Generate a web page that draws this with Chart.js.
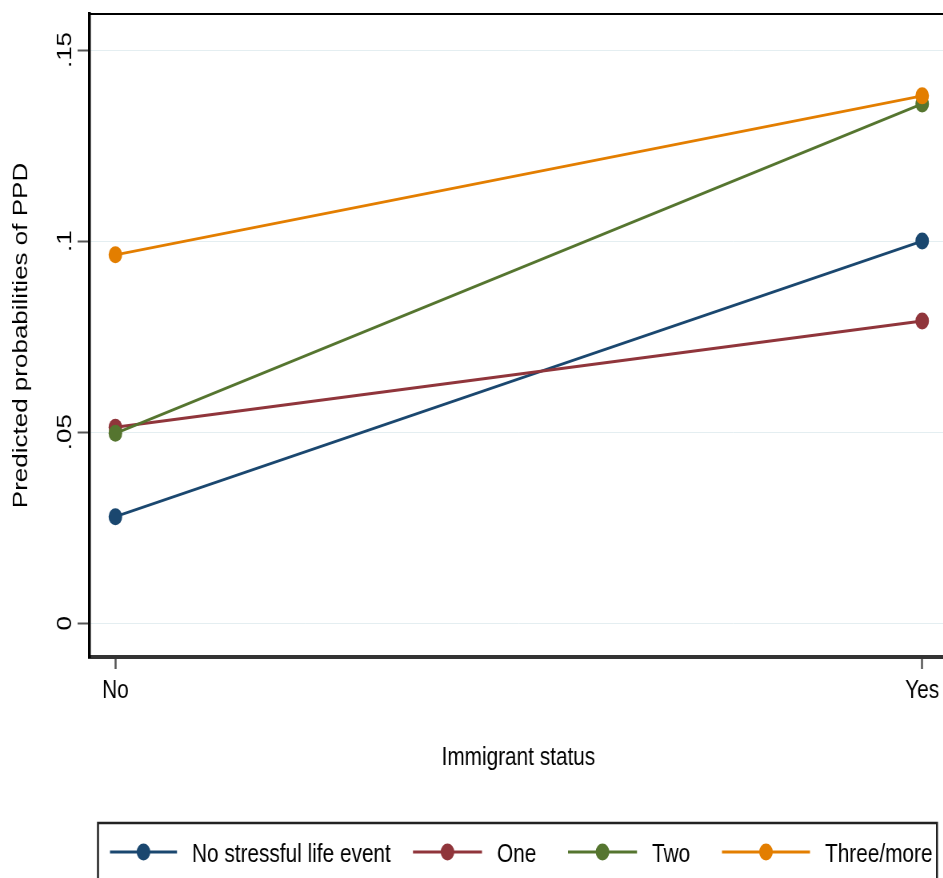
<!DOCTYPE html>
<html>
<head>
<meta charset="utf-8">
<script src="https://cdn.jsdelivr.net/npm/chart.js@4.4.1/dist/chart.umd.min.js"></script>
<style>
  html, body { margin: 0; padding: 0; background: #fff; overflow: hidden; width: 943px; height: 878px; }
  /* the plot is laid out on a wider canvas and narrowed horizontally */
  #wrap { position: absolute; left: 0; top: 0; width: 1186px; height: 878px; transform: scaleX(0.8); transform-origin: 0 0; }
</style>
</head>
<body>
<div id="wrap"><canvas id="c"></canvas></div>
<script>
// Predicted probabilities of PPD by immigrant status and number of stressful life events
const categories = ['No', 'Yes'];
const seriesNames = ['No stressful life event', 'One', 'Two', 'Three/more'];
const noEvent = [0.0279, 0.1000];
const oneEvent = [0.0513, 0.0791];
const twoEvents = [0.0497, 0.1359];
const threeOrMore = [0.0964, 0.1380];
const yTickValues = [0, 0.05, 0.1, 0.15];
const yTickLabels = ['0', '.05', '.1', '.15'];

const seriesValues = [noEvent, oneEvent, twoEvents, threeOrMore];
const seriesColors = ['#1a476f', '#90353b', '#55752f', '#e37e00'];
const FONT = '"Liberation Sans", Arial, sans-serif';
const FSIZE = 26;
const MARK = 8.5;

const datasets = seriesNames.map((name, i) => ({
  label: name,
  data: seriesValues[i].map((v, k) => ({ x: k, y: v })),
  borderColor: seriesColors[i],
  backgroundColor: seriesColors[i],
  pointBackgroundColor: seriesColors[i],
  pointBorderColor: seriesColors[i],
  pointBorderWidth: 0,
  pointRadius: MARK,
  borderWidth: 3,
  tension: 0,
  order: seriesNames.length - i
}));

// rotated y tick labels, outer frame and boxed legend
const decorations = {
  id: 'decorations',
  afterDraw(chart) {
    const ctx = chart.ctx;
    const area = chart.chartArea;
    const ys = chart.scales.y;

    ctx.save();
    // frame top / right
    ctx.strokeStyle = '#000';
    ctx.lineWidth = 2;
    ctx.beginPath();
    ctx.moveTo(area.left - 2, area.top);
    ctx.lineTo(area.right, area.top);
    ctx.lineTo(area.right, area.bottom);
    ctx.stroke();

    // y tick labels, reading upward
    ctx.fillStyle = '#000';
    ctx.font = FSIZE + 'px ' + FONT;
    ctx.textAlign = 'center';
    ctx.textBaseline = 'alphabetic';
    yTickValues.forEach((v, i) => {
      ctx.save();
      ctx.translate(89, ys.getPixelForValue(v));
      ctx.rotate(-Math.PI / 2);
      ctx.fillText(yTickLabels[i], 0, 0);
      ctx.restore();
    });

    // legend box
    const sx = 0.8;
    ctx.strokeStyle = '#222';
    ctx.lineWidth = 2.5;
    ctx.strokeRect(98 / sx, 823, (937 - 98) / sx, 120);

    const keys = [[110, 177], [413, 482], [568, 637], [722, 810]];
    const keyY = 852;
    ctx.textAlign = 'left';
    seriesNames.forEach((name, i) => {
      const x0 = keys[i][0] / sx, x1 = keys[i][1] / sx;
      ctx.strokeStyle = seriesColors[i];
      ctx.lineWidth = 3;
      ctx.beginPath();
      ctx.moveTo(x0, keyY);
      ctx.lineTo(x1, keyY);
      ctx.stroke();
      ctx.fillStyle = seriesColors[i];
      ctx.beginPath();
      ctx.arc((x0 + x1) / 2, keyY, MARK, 0, Math.PI * 2);
      ctx.fill();
      ctx.fillStyle = '#000';
      ctx.fillText(name, x1 + 15 / sx, 862);
    });
    ctx.restore();
  }
};

new Chart(document.getElementById('c'), {
  type: 'line',
  data: { datasets },
  plugins: [decorations],
  options: {
    responsive: true,
    maintainAspectRatio: false,
    animation: false,
    layout: { autoPadding: false, padding: { top: 14, left: 0, right: 2, bottom: 0 } },
    plugins: { legend: { display: false }, tooltip: { enabled: false } },
    scales: {
      x: {
        type: 'linear',
        min: -0.032,
        max: 1.031,
        afterBuildTicks: s => { s.ticks = categories.map((_, i) => ({ value: i })); },
        afterFit: s => { s.height = 221; s.paddingLeft = 0; s.paddingRight = 0; },
        ticks: {
          callback: v => categories[v] !== undefined ? categories[v] : '',
          font: { family: FONT, size: FSIZE },
          color: '#000',
          padding: 6,
          maxRotation: 0,
          autoSkip: false
        },
        grid: {
          drawOnChartArea: false,
          drawTicks: true,
          tickLength: 12,
          tickColor: '#555',
          tickWidth: 2.5,
          color: '#555'
        },
        border: { display: true, color: '#333', width: 4 },
        title: {
          display: true,
          text: 'Immigrant status',
          font: { family: FONT, size: FSIZE },
          color: '#000',
          padding: { top: 0, bottom: 105 }
        }
      },
      y: {
        type: 'linear',
        min: -0.00882,
        max: 0.15942,
        afterBuildTicks: s => { s.ticks = yTickValues.map(v => ({ value: v })); },
        afterFit: s => { s.width = 112; s.paddingTop = 0; s.paddingBottom = 0; },
        ticks: { display: false },
        grid: {
          color: '#e4eef1',
          lineWidth: 1,
          drawTicks: true,
          tickLength: 15,
          tickColor: '#555',
          tickWidth: 2
        },
        border: { display: true, color: '#000', width: 3.5 },
        title: {
          display: true,
          text: 'Predicted probabilities of PPD',
          font: { family: FONT, size: FSIZE },
          color: '#000',
          padding: { top: 11, bottom: 0 }
        }
      }
    }
  }
});
</script>
</body>
</html>
